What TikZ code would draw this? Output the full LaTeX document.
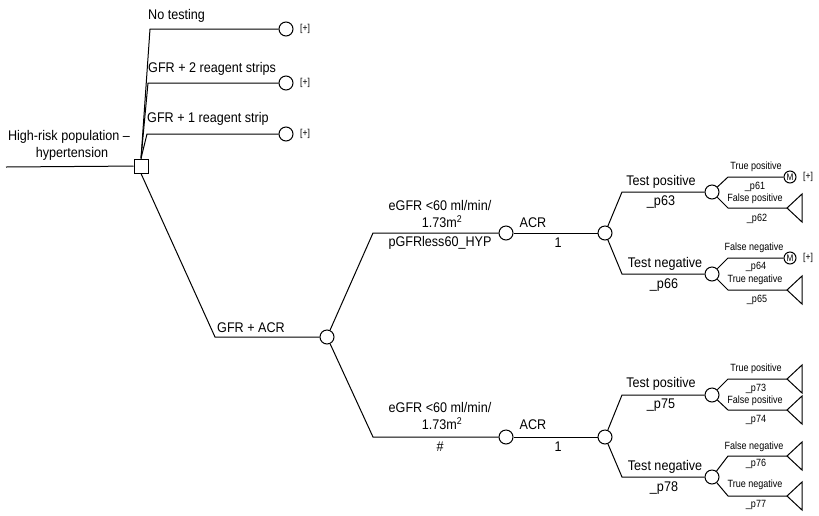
\documentclass[tikz,border=0pt]{standalone}
\usepackage{fontspec}
\setmainfont{Liberation Sans}[FakeStretch=0.9]
\newfontfamily\narrowf{Liberation Sans}[FakeStretch=0.86]
\usetikzlibrary{calc}
\tikzset{
  lab/.style={font=\fontsize{14}{16}\selectfont, inner sep=0pt},
  slab/.style={font=\narrowf\fontsize{10.5}{12}\selectfont, inner sep=0pt},
  chance/.style={draw, circle, fill=white, minimum size=14pt, inner sep=0pt, line width=1pt},
  decis/.style={draw, rectangle, fill=white, minimum size=14pt, inner sep=0pt, line width=1pt},
  markov/.style={draw, circle, fill=white, minimum size=12pt, inner sep=0pt, line width=1pt, font=\narrowf\fontsize{9.5}{10}\selectfont},
  plus/.style={font=\narrowf\fontsize{10}{12}\selectfont, inner sep=0pt},
  br/.style={line width=1pt},
}
\begin{document}
\begin{tikzpicture}[x=1pt,y=-1pt]
\useasboundingbox (0,0) rectangle (819,515);

% root
\node[decis] (root) at (141,166) {};
\coordinate (start) at (6,167);
\draw[br] (start) -- (root);
\node[lab] (hr1) at (69,137) {High-risk population –};
\node[lab] (hr2) at (72,154) {hypertension};

% top three strategies
\coordinate (b1) at (150,29);
\coordinate (b2) at (148,83);
\coordinate (b3) at (147,134);
\node[chance] (t1) at (286,29) {};
\node[chance] (t2) at (286,83) {};
\node[chance] (t3) at (286,134) {};
\draw[br] (root.north) -- (b1) -- (t1);
\draw[br] (root.north) -- (b2) -- (t2);
\draw[br] (root.north) -- (b3) -- (t3);
\node[lab, anchor=west] (l1) at (148,16) {No testing};
\node[lab, anchor=west] (l2) at (148,69) {GFR + 2 reagent strips};
\node[lab, anchor=west] (l3) at (147,119) {GFR + 1 reagent strip};
\node[plus, anchor=west] (p1) at (300,29) {[+]};
\node[plus, anchor=west] (p2) at (300,83) {[+]};
\node[plus, anchor=west] (p3) at (300,134) {[+]};

% GFR + ACR
\coordinate (b4) at (215,337);
\node[chance] (n1) at (327,337) {};
\draw[br] (root.south) -- (b4) -- (n1);
\node[lab, anchor=west] (l4) at (217,328) {GFR + ACR};

% eGFR branches
\coordinate (b5) at (373,233);
\coordinate (b6) at (373,437);
\node[chance] (a1) at (506,233) {};
\node[chance] (a2) at (506,437) {};
\draw[br] (n1) -- (b5) -- (a1);
\draw[br] (n1) -- (b6) -- (a2);
\node[lab] (e1) at (440,205) {eGFR <60 ml/min/};
\node[lab] (e2) at (442,222) {1.73m\textsuperscript{2}};
\node[lab] (e3) at (440,243) {pGFRless60\_HYP};
\node[lab] (f1) at (440,407) {eGFR <60 ml/min/};
\node[lab] (f2) at (442,424) {1.73m\textsuperscript{2}};
\node[lab] (f3) at (440,447) {\#};

% ACR
\node[chance] (r1) at (605,233) {};
\node[chance] (r2) at (605,437) {};
\draw[br] (a1) -- (r1);
\draw[br] (a2) -- (r2);
\node[lab] (ac1) at (533,223) {ACR};
\node[lab] (o1) at (558,243) {1};
\node[lab] (ac2) at (533,425) {ACR};
\node[lab] (o2) at (558,447) {1};

% test result nodes (upper)
\coordinate (c1) at (622,192);
\coordinate (c2) at (622,274);
\node[chance] (s1) at (712,192) {};
\node[chance] (s2) at (712,274) {};
\draw[br] (r1) -- (c1) -- (s1);
\draw[br] (r1) -- (c2) -- (s2);
\node[lab] (tp1) at (661,182) {Test positive};
\node[lab] (tq1) at (661,202) {\_p63};
\node[lab] (tn1) at (665,264) {Test negative};
\node[lab] (tm1) at (664,285) {\_p66};

% test result nodes (lower)
\coordinate (c3) at (622,395);
\coordinate (c4) at (622,477);
\node[chance] (s3) at (712,395) {};
\node[chance] (s4) at (712,477) {};
\draw[br] (r2) -- (c3) -- (s3);
\draw[br] (r2) -- (c4) -- (s4);
\node[lab] (tp2) at (661,384) {Test positive};
\node[lab] (tq2) at (661,405) {\_p75};
\node[lab] (tn2) at (665,467) {Test negative};
\node[lab] (tm2) at (664,488) {\_p78};

% outcomes upper positive
\coordinate (d1) at (728,177);
\coordinate (d2) at (728,208);
\node[markov] (m1) at (790,177) {M};
\coordinate (x2) at (787,208);
\draw[br] (s1) -- (d1) -- (m1);
\draw[br] (s1) -- (d2) -- (x2);
\draw[br] (x2) -- ++(15,-14) -- ++(0,28) -- cycle;
\node[plus, anchor=west] (pm1) at (803,177) {[+]};
\node[slab] (o11) at (756,167) {True positive};
\node[slab] (o12) at (755,187) {\_p61};
\node[slab] (o13) at (755,199) {False positive};
\node[slab] (o14) at (757,219) {\_p62};

% outcomes upper negative
\coordinate (d3) at (728,258);
\coordinate (d4) at (728,290);
\node[markov] (m2) at (790,258) {M};
\coordinate (x4) at (787,290);
\draw[br] (s2) -- (d3) -- (m2);
\draw[br] (s2) -- (d4) -- (x4);
\draw[br] (x4) -- ++(15,-14) -- ++(0,28) -- cycle;
\node[plus, anchor=west] (pm2) at (803,258) {[+]};
\node[slab] (o21) at (754,248) {False negative};
\node[slab] (o22) at (756,267) {\_p64};
\node[slab] (o23) at (755,280) {True negative};
\node[slab] (o24) at (757,300) {\_p65};

% outcomes lower positive
\coordinate (d5) at (728,379);
\coordinate (d6) at (728,410);
\coordinate (x5) at (787,379);
\coordinate (x6) at (787,410);
\draw[br] (s3) -- (d5) -- (x5);
\draw[br] (s3) -- (d6) -- (x6);
\draw[br] (x5) -- ++(15,-14) -- ++(0,28) -- cycle;
\draw[br] (x6) -- ++(15,-14) -- ++(0,28) -- cycle;
\node[slab] (o31) at (756,369) {True positive};
\node[slab] (o32) at (756,389) {\_p73};
\node[slab] (o33) at (755,401) {False positive};
\node[slab] (o34) at (756,420) {\_p74};

% outcomes lower negative
\coordinate (d7) at (728,456);
\coordinate (d8) at (728,496);
\coordinate (x7) at (787,456);
\coordinate (x8) at (787,496);
\draw[br] (s4) -- (d7) -- (x7);
\draw[br] (s4) -- (d8) -- (x8);
\draw[br] (x7) -- ++(15,-14) -- ++(0,28) -- cycle;
\draw[br] (x8) -- ++(15,-14) -- ++(0,28) -- cycle;
\node[slab] (o41) at (754,447) {False negative};
\node[slab] (o42) at (756,464) {\_p76};
\node[slab] (o43) at (755,485) {True negative};
\node[slab] (o44) at (756,505) {\_p77};
\end{tikzpicture}
\end{document}
